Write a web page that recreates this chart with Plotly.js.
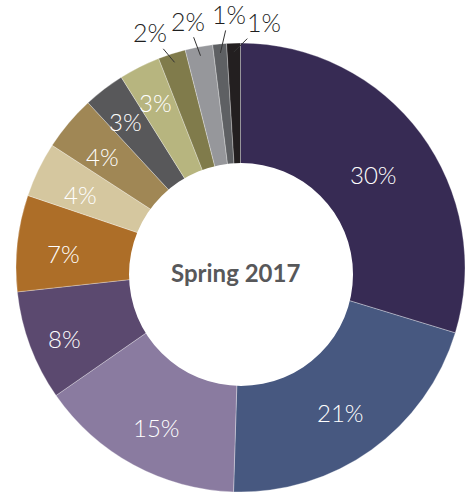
<!DOCTYPE html>
<html>
<head>
<meta charset="utf-8">
<script src="https://cdn.plot.ly/plotly-3.0.1.min.js"></script>
<style>html,body{margin:0;padding:0;background:#fff;}#chart{width:465px;height:497px;}</style>
</head>
<body>
<div id="chart"></div>
<script>
// Data
const categories = ["A","B","C","D","E","F","G","H","I","J","K","L","M"];
const shares = [30, 21, 15, 8, 7, 4, 4, 3, 3, 2, 2, 1, 1];
const sliceColors = ["#372B54","#475880","#8A7BA0","#5B496F","#AD6E28","#D5C79F","#A08755","#58585A","#B7B57F","#807B4B","#96979B","#5E6063","#231F20"];
const centerLabel = "Spring 2017";

// label styling: radial distance (px) of inside labels, pixel offsets for outside labels
const insideRadius = [165, 172, 176, 188, 178, 178, 180, 190, 190];
const outsideOffsets = {9: [-25, -30], 10: [-13, -35], 11: [9, -39], 12: [30, -30]};

const total = shares.reduce((a, b) => a + b, 0);
const FONT = "Lato, 'Open Sans', sans-serif";
const R = 224.5; // outer radius in px (paper unit 0.5)

const annotations = [];
let cum = 0;
shares.forEach((v, i) => {
  const mid = (cum + v / 2) / total * 2 * Math.PI;
  cum += v;
  if (outsideOffsets[i]) {
    const rf = 0.96 * 0.5;
    annotations.push({
      xref: "paper", yref: "paper",
      x: 0.5 + rf * Math.sin(mid), y: 0.5 + rf * Math.cos(mid),
      ax: outsideOffsets[i][0], ay: outsideOffsets[i][1],
      text: v + "%", showarrow: true, arrowhead: 0, arrowwidth: 1, arrowcolor: "#333",
      standoff: 0, startstandoff: 0,
      font: {family: FONT, size: 25, color: "#1f1f1f", weight: 300}
    });
  } else if (insideRadius[i] !== undefined) {
    const rf = insideRadius[i] / R * 0.5;
    annotations.push({
      xref: "paper", yref: "paper", xanchor: "center", yanchor: "middle",
      x: 0.5 + rf * Math.sin(mid), y: 0.5 + rf * Math.cos(mid), yshift: -5,
      text: v + "%", showarrow: false,
      font: {family: FONT, size: 24, color: "#ffffff", weight: 300}
    });
  }
});
annotations.push({
  xref: "paper", yref: "paper", xanchor: "center", yanchor: "middle", x: 0.4878, y: 0.4878, showarrow: false,
  text: centerLabel, font: {family: FONT, size: 24, color: "#58585A", weight: 700}
});

const trace = {
  type: "pie",
  labels: categories,
  values: shares,
  sort: false,
  direction: "clockwise",
  rotation: 0,
  hole: 0.45,
  marker: {colors: sliceColors, line: {color: "rgba(255,255,255,0.6)", width: 0.5}},
  textinfo: "none",
  hoverinfo: "none",
  showlegend: false
};

const layout = {
  width: 465, height: 497,
  margin: {l: 16, r: 0, t: 43, b: 5},
  paper_bgcolor: "#fff",
  showlegend: false,
  annotations: annotations,
  shapes: [{
    type: "circle", xref: "paper", yref: "paper", layer: "above",
    x0: 0.2517, x1: 0.7506, y0: 0.2361, y1: 0.7327,
    fillcolor: "#ffffff", line: {width: 0}
  }]
};

Plotly.newPlot("chart", [trace], layout, {displayModeBar: false, staticPlot: true});
</script>
</body>
</html>
